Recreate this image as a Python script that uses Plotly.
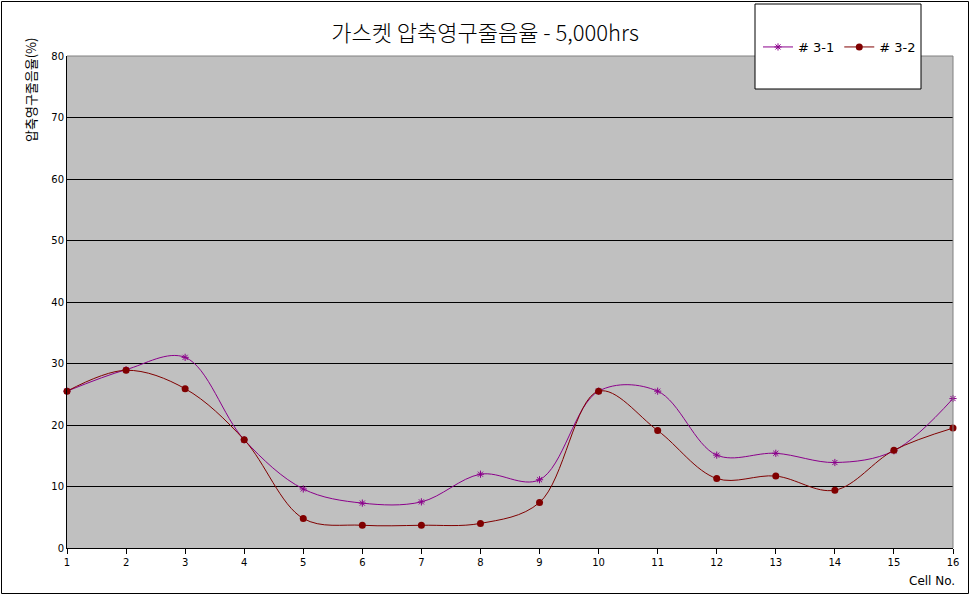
import plotly.graph_objects as go

cells = list(range(1, 17))
s31 = [25.5, 29.0, 31.0, 17.6, 9.6, 7.3, 7.5, 12.0, 11.1, 25.5, 25.5, 15.1, 15.4, 13.9, 15.8, 24.3]
s32 = [25.5, 28.9, 25.9, 17.6, 4.8, 3.7, 3.7, 4.0, 7.4, 25.5, 19.1, 11.3, 11.7, 9.4, 15.9, 19.5]
names = ["# 3-1", "# 3-2"]
title = "가스켓 압축영구줄음율 - 5,000hrs"
ytitle = "압축영구줄음율(%)"
xtitle = "Cell No."

W, H = 971, 597
L, R, T, B = 67, 953, 56, 548
pw, ph = R - L, B - T
def px(x): return (x - L) / pw
def py(y): return (B - y) / ph

fig = go.Figure()
fig.add_trace(go.Scatter(x=cells, y=s31, name=names[0], mode="lines+markers",
                         line=dict(color="#8B008B", width=1, shape="spline", smoothing=1),
                         marker=dict(symbol="asterisk-open", size=6, color="#8B008B",
                                     line=dict(color="#8B008B", width=1)),
                         cliponaxis=False))
fig.add_trace(go.Scatter(x=cells, y=s32, name=names[1], mode="lines+markers",
                         line=dict(color="#800000", width=1, shape="spline", smoothing=1),
                         marker=dict(symbol="circle", size=7, color="#800000"),
                         cliponaxis=False))

fig.update_layout(
    width=W, height=H,
    margin=dict(l=L, r=W - R, t=T, b=H - B),
    paper_bgcolor="white", plot_bgcolor="#C0C0C0",
    title=dict(text=title, x=485 / W, xref="container", xanchor="center",
               y=1 - 33 / H, yref="container", yanchor="middle",
               font=dict(family="Noto Sans CJK KR", size=22, color="black", weight=300)),
    xaxis=dict(range=[1, 16], tickmode="array", tickvals=cells, ticks="outside",
               ticklen=5, tickcolor="black", showgrid=False, zeroline=False,
               showline=True, linecolor="black", linewidth=1,
               tickfont=dict(family="DejaVu Sans", size=10, color="black")),
    yaxis=dict(range=[0, 80], dtick=10, showgrid=True, gridcolor="black", gridwidth=1,
               zeroline=False, showline=True, linecolor="black", linewidth=1,
               ticks="", tickfont=dict(family="DejaVu Sans", size=10, color="black")),
    showlegend=True,
    legend=dict(orientation="h", x=px(758), y=py(47), xanchor="left", yanchor="middle",
                bgcolor="rgba(0,0,0,0)", borderwidth=0,
                font=dict(family="DejaVu Sans", size=13, color="black"),
                itemwidth=30),
)

shapes = [
    dict(type="line", xref="paper", yref="paper", x0=1, x1=1, y0=0, y1=1,
         line=dict(color="#808080", width=1), layer="above"),
    dict(type="line", xref="paper", yref="paper", x0=0, x1=1, y0=1, y1=1,
         line=dict(color="#808080", width=1), layer="above"),
    dict(type="rect", xref="paper", yref="paper", x0=px(755), x1=px(921), y0=py(89), y1=py(4),
         fillcolor="white", line=dict(color="black", width=1), layer="above"),
    dict(type="rect", xref="paper", yref="paper", x0=px(1.5), x1=px(968.5), y0=py(593.5), y1=py(1.5),
         line=dict(color="black", width=1), layer="above"),
]
fig.update_layout(shapes=shapes)

fig.add_annotation(text=ytitle, xref="paper", yref="paper", x=px(30), y=py(90),
                   textangle=-90, showarrow=False, xanchor="center", yanchor="middle",
                   font=dict(family="Noto Sans CJK KR", size=13, color="black"))
fig.add_annotation(text=xtitle, xref="paper", yref="paper", x=px(957), y=py(581),
                   showarrow=False, xanchor="right", yanchor="middle",
                   font=dict(family="DejaVu Sans", size=12, color="black"))

fig.write_html("out.html")
